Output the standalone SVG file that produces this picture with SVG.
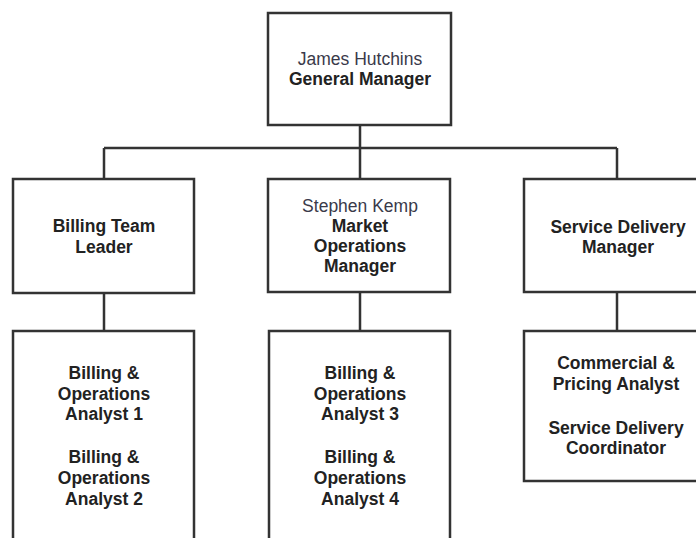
<svg xmlns="http://www.w3.org/2000/svg" width="696" height="538" viewBox="0 0 696 538">
<style>
.box{fill:#fff;stroke:#333;stroke-width:2.5}
.ln{fill:none;stroke:#333;stroke-width:2.5}
text{font-family:"Liberation Sans",Arial,sans-serif;font-size:17.5px;text-anchor:middle;fill:#222}
.b{font-weight:bold}
.n{fill:#3a3a4a}
</style>
<rect width="696" height="538" fill="#fff"/>
<g id="connectors">
<path class="ln" d="M360 125V148M104 148H617M104 148V179M360 148V179M617 148V179M104 293V331M360 292V331M617 292V331"/>
</g>
<g id="gm">
<rect class="box" x="268" y="13" width="183" height="112"/>
<text x="360" y="65" class="n">James Hutchins</text>
<text x="360" y="85" class="b">General Manager</text>
</g>
<g id="billing-lead">
<rect class="box" x="13" y="179" width="181" height="114"/>
<text x="104" y="232" class="b">Billing Team</text>
<text x="104" y="253" class="b">Leader</text>
</g>
<g id="market-ops">
<rect class="box" x="268" y="179" width="182" height="113"/>
<text x="360" y="212" class="n">Stephen Kemp</text>
<text x="360" y="232" class="b">Market</text>
<text x="360" y="252" class="b">Operations</text>
<text x="360" y="272" class="b">Manager</text>
</g>
<g id="service-mgr">
<rect class="box" x="524" y="179" width="186" height="113"/>
<text x="618" y="233" class="b">Service Delivery</text>
<text x="618" y="253" class="b">Manager</text>
</g>
<g id="analysts-1-2">
<rect class="box" x="13" y="331" width="181" height="230"/>
<text x="104" y="379" class="b">Billing &amp;</text>
<text x="104" y="400" class="b">Operations</text>
<text x="104" y="420" class="b">Analyst 1</text>
<text x="104" y="463" class="b">Billing &amp;</text>
<text x="104" y="484" class="b">Operations</text>
<text x="104" y="505" class="b">Analyst 2</text>
</g>
<g id="analysts-3-4">
<rect class="box" x="269" y="331" width="181" height="230"/>
<text x="360" y="379" class="b">Billing &amp;</text>
<text x="360" y="400" class="b">Operations</text>
<text x="360" y="420" class="b">Analyst 3</text>
<text x="360" y="463" class="b">Billing &amp;</text>
<text x="360" y="484" class="b">Operations</text>
<text x="360" y="505" class="b">Analyst 4</text>
</g>
<g id="service-team">
<rect class="box" x="524" y="331" width="186" height="150"/>
<text x="616" y="369" class="b">Commercial &amp;</text>
<text x="616" y="390" class="b">Pricing Analyst</text>
<text x="616" y="434" class="b">Service Delivery</text>
<text x="616" y="454" class="b">Coordinator</text>
</g>
</svg>
